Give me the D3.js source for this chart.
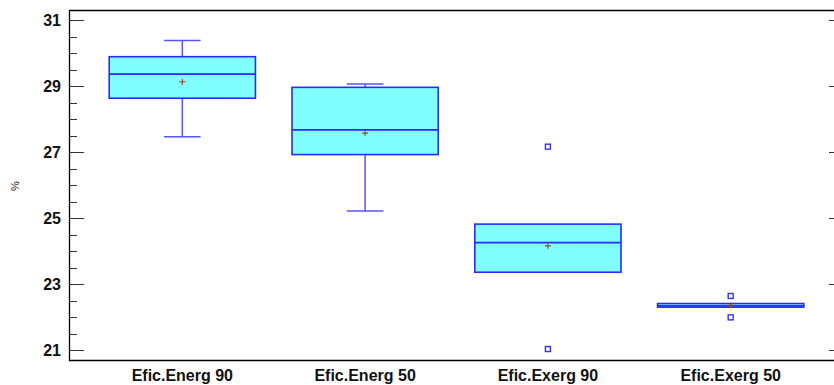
<!DOCTYPE html>
<html><head><meta charset="utf-8">
<script src="https://cdn.jsdelivr.net/npm/d3@7"></script>
<style>body{margin:0;background:#fff}svg{display:block}</style>
</head><body>
<svg id="c" width="834" height="385"></svg>
<script>
const categories = ["Efic.Energ 90","Efic.Energ 50","Efic.Exerg 90","Efic.Exerg 50"];
const whiskerLow  = [27.47, 25.22, 23.36, 22.30];
const q1          = [28.64, 26.93, 23.36, 22.30];
const median      = [29.37, 27.68, 24.26, 22.34];
const q3          = [29.90, 28.97, 24.82, 22.41];
const whiskerHigh = [30.39, 29.07, 24.82, 22.41];
const means       = [29.14, 27.58, 24.16, 22.36];
const outliers    = [[], [], [27.17, 21.03], [22.64, 21.99]];
const yTicks = [21, 23, 25, 27, 29, 31];
const yLabel = "%";

const svg = d3.select("#c");
const L = 69, R = 844, T = 10, B = 360;
const x = d3.scaleBand().domain(categories).range([L, R]).paddingInner(0.2).paddingOuter(0.22);
const y = d3.scaleLinear().domain([20.697, 31.317]).range([B, T]);
const bw = x.bandwidth();
const data = categories.map((c,i)=>({c, lo:whiskerLow[i], q1:q1[i], med:median[i], q3:q3[i], hi:whiskerHigh[i], mean:means[i], out:outliers[i]}));

// frame
svg.append("line").attr("x1",L).attr("x2",R).attr("y1",T+0.5).attr("y2",T+0.5).attr("stroke","#000").attr("stroke-width",1.3);
svg.append("line").attr("x1",L).attr("x2",R).attr("y1",B+0.5).attr("y2",B+0.5).attr("stroke","#000").attr("stroke-width",1.3);
svg.append("line").attr("x1",L+0.5).attr("x2",L+0.5).attr("y1",T).attr("y2",B+1).attr("stroke","#000").attr("stroke-width",1.3);

// y axis ticks left
const minor = d3.range(21, 31.01, 0.5).filter(v=>!yTicks.includes(v));
const gl = svg.append("g");
gl.selectAll(".mj").data(yTicks).join("line").attr("x1",L).attr("x2",L+15).attr("y1",d=>Math.round(y(d))+0.5).attr("y2",d=>Math.round(y(d))+0.5).attr("stroke","#333");
gl.selectAll(".mn").data(minor).join("line").attr("x1",L).attr("x2",L+8).attr("y1",d=>Math.round(y(d))+0.5).attr("y2",d=>Math.round(y(d))+0.5).attr("stroke","#333");
gl.selectAll(".rt").data(yTicks).join("line").attr("x1",R-15).attr("x2",R).attr("y1",d=>Math.round(y(d))+0.5).attr("y2",d=>Math.round(y(d))+0.5).attr("stroke","#333");
gl.selectAll("text").data(yTicks).join("text").attr("x",L-8).attr("y",d=>y(d)).attr("dy","0.36em")
  .attr("text-anchor","end").attr("font-family","Liberation Sans, Arial, sans-serif").attr("font-weight","bold").attr("font-size",16).attr("fill","#111").text(d=>d);

svg.append("text").attr("transform","translate(19,186) rotate(-90)").attr("text-anchor","middle")
  .attr("font-family","Liberation Sans, Arial, sans-serif").attr("font-size",11).attr("fill","#111").text(yLabel);

// x labels
svg.selectAll(".xl").data(categories).join("text").attr("x",d=>x(d)+bw/2).attr("y",381)
  .attr("text-anchor","middle").attr("font-family","Liberation Sans, Arial, sans-serif").attr("font-weight","bold").attr("font-size",16).attr("fill","#111").text(d=>d);

// boxes
const g = svg.selectAll(".box").data(data).join("g");
const cx = d=>x(d.c)+bw/2;
const capW = bw*0.25;
g.filter(d=>d.hi>d.q3).append("line").attr("x1",cx).attr("x2",cx).attr("y1",d=>y(d.hi)).attr("y2",d=>y(d.q3)).attr("stroke","#5555ff").attr("stroke-width",1.5);
g.filter(d=>d.lo<d.q1).append("line").attr("x1",cx).attr("x2",cx).attr("y1",d=>y(d.q1)).attr("y2",d=>y(d.lo)).attr("stroke","#5555ff").attr("stroke-width",1.5);
g.filter(d=>d.hi>d.q3).append("line").attr("x1",d=>cx(d)-capW/2).attr("x2",d=>cx(d)+capW/2).attr("y1",d=>y(d.hi)).attr("y2",d=>y(d.hi)).attr("stroke","#5555ff").attr("stroke-width",1.5);
g.filter(d=>d.lo<d.q1).append("line").attr("x1",d=>cx(d)-capW/2).attr("x2",d=>cx(d)+capW/2).attr("y1",d=>y(d.lo)).attr("y2",d=>y(d.lo)).attr("stroke","#5555ff").attr("stroke-width",1.5);
g.append("rect").attr("x",d=>x(d.c)).attr("width",bw).attr("y",d=>y(d.q3)).attr("height",d=>Math.max(1,y(d.q1)-y(d.q3)))
  .attr("fill","#80ffff").attr("stroke","#2a2aff").attr("stroke-width",1.6);
g.append("line").attr("x1",d=>x(d.c)).attr("x2",d=>x(d.c)+bw).attr("y1",d=>y(d.med)).attr("y2",d=>y(d.med)).attr("stroke","#2a2aff").attr("stroke-width",1.6);
// mean +
g.append("path").attr("d",d=>{const X=cx(d),Y=y(d.mean);return `M${X-3},${Y}H${X+3}M${X},${Y-3}V${Y+3}`;}).attr("stroke","#a04020").attr("stroke-width",1.1).attr("fill","none");
// outliers
g.selectAll(".o").data(d=>d.out.map(v=>({v,d}))).join("rect").attr("x",o=>cx(o.d)-2.5).attr("y",o=>y(o.v)-2.5).attr("width",5).attr("height",5)
  .attr("fill","#fff").attr("stroke","#3333ff").attr("stroke-width",1.4);
</script>
</body></html>
